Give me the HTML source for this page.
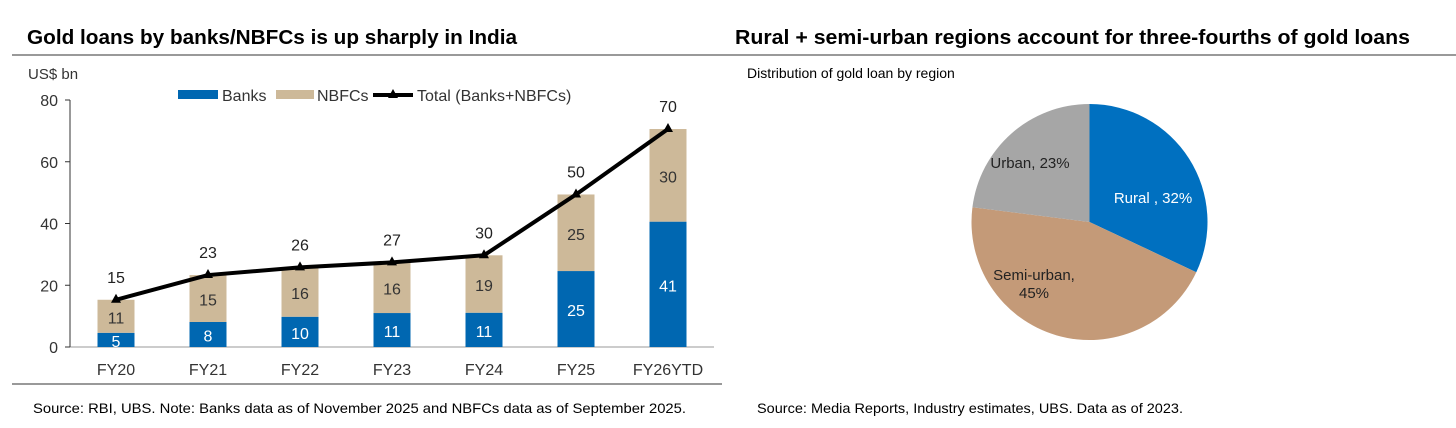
<!DOCTYPE html>
<html><head><meta charset="utf-8"><style>
body{margin:0;width:1456px;height:428px;background:#fff;font-family:"Liberation Sans",sans-serif;overflow:hidden}
svg{display:block}
</style></head><body>
<svg width="1456" height="428">
<text x="27" y="44" font-size="20" font-weight="bold" fill="#000" textLength="490" lengthAdjust="spacingAndGlyphs">Gold loans by banks/NBFCs is up sharply in India</text>
<text x="735" y="44" font-size="20" font-weight="bold" fill="#000" textLength="675" lengthAdjust="spacingAndGlyphs">Rural + semi-urban regions account for three-fourths of gold loans</text>
<line x1="12" y1="55" x2="1456" y2="55" stroke="#999" stroke-width="2"/>
<line x1="12" y1="384" x2="722" y2="384" stroke="#999" stroke-width="2"/>
<text x="33" y="413" font-size="14" textLength="653" lengthAdjust="spacingAndGlyphs">Source: RBI, UBS. Note: Banks data as of November 2025 and NBFCs data as of September 2025.</text>
<text x="757" y="413" font-size="14" textLength="426" lengthAdjust="spacingAndGlyphs">Source: Media Reports, Industry estimates, UBS. Data as of 2023.</text>
<text x="747" y="78" font-size="14">Distribution of gold loan by region</text>
<text x="28" y="79" font-size="15" fill="#333">US$ bn</text>
<g id="legend">
<rect x="178" y="90" width="40" height="9" fill="#0067b1"/>
<text x="222" y="101" font-size="16" fill="#333">Banks</text>
<rect x="276" y="90" width="38" height="9" fill="#cdb999"/>
<text x="317" y="101" font-size="16" fill="#333">NBFCs</text>
<line x1="373" y1="95" x2="413" y2="95" stroke="#000" stroke-width="4"/>
<polygon points="393,89 398,98 388,98" fill="#000"/>
<text x="417" y="101" font-size="16" fill="#333">Total (Banks+NBFCs)</text>
</g>
<g id="chart"></g>
<g id="pie"></g>
</svg>
<script>
const categories=["FY20","FY21","FY22","FY23","FY24","FY25","FY26YTD"];
const banks=[4.6,8.1,9.8,11,11.1,24.6,40.6];
const nbfcs=[10.7,15.2,16,16.4,18.6,24.8,30];
const totals=[15.3,23.3,25.8,27.4,29.7,49.4,70.6];
const bankLabels=["5","8","10","11","11","25","41"];
const nbfcLabels=["11","15","16","16","19","25","30"];
const totalLabels=["15","23","26","27","30","50","70"];
const yTicks=[0,20,40,60,80];
const pieLabels=["Rural , 32%","Semi-urban,","Urban, 23%"];
const pieValues=[32,45,23];
const NS="http://www.w3.org/2000/svg";
function mk(p,t,a){const e=document.createElementNS(NS,t);for(const k in a)e.setAttribute(k,a[k]);p.appendChild(e);return e;}
const g=document.getElementById('chart');
const x0=70,x1=714,y0=347,yTop=100,ymax=80;
const y=v=>y0-(v/ymax)*(y0-yTop);
const bw=(x1-x0)/categories.length;
const xc=i=>x0+bw*(i+0.5);
let ax=mk(g,'line',{x1:x0,y1:y0,x2:x1,y2:y0,stroke:'#bbb','stroke-width':1.5});

let ay=mk(g,'line',{x1:x0,y1:y(80),x2:x0,y2:y0,stroke:'#333','stroke-width':1});

yTicks.forEach(v=>{
 const t=mk(g,'line',{x1:x0-5,y1:y(v),x2:x0,y2:y(v),stroke:'#333'});
 
 const l=mk(g,'text',{x:x0-12,y:y(v)+6,'font-size':16,'text-anchor':'end',fill:'#333'});l.textContent=v;
 
});
categories.forEach((c,i)=>{
 const cx=xc(i),w=37;
 const b=mk(g,'rect',{x:cx-w/2,y:y(banks[i]),width:w,height:y0-y(banks[i]),fill:'#0067b1'});
 
 const n=mk(g,'rect',{x:cx-w/2,y:y(banks[i]+nbfcs[i]),width:w,height:y(banks[i])-y(banks[i]+nbfcs[i]),fill:'#cdb999'});
 
 const bl=mk(g,'text',{x:cx,y:(y0+y(banks[i]))/2+7,'font-size':16,'text-anchor':'middle',fill:'#fff'});bl.textContent=bankLabels[i];
 
 const nl=mk(g,'text',{x:cx,y:(y(banks[i])+y(banks[i]+nbfcs[i]))/2+7,'font-size':16,'text-anchor':'middle',fill:'#333'});nl.textContent=nbfcLabels[i];
 
 const xl=mk(g,'text',{x:cx,y:375,'font-size':16,'text-anchor':'middle',fill:'#333'});xl.textContent=c;
 
 const tl=mk(g,'text',{x:cx,y:y(totals[i])-17,'font-size':16,'text-anchor':'middle',fill:'#222'});tl.textContent=totalLabels[i];
 
});
const line=mk(g,'polyline',{points:totals.map((v,i)=>xc(i)+','+y(v)).join(' '),fill:'none',stroke:'#000','stroke-width':4,'stroke-linejoin':'round'});

totals.forEach((v,i)=>{
 const m=mk(g,'polygon',{points:`${xc(i)},${y(v)-6} ${xc(i)+5},${y(v)+3} ${xc(i)-5},${y(v)+3}`,fill:'#000'});
 
});
const pg=document.getElementById('pie');
const pcx=1089.5,pcy=222,r=118;
const cols=['#0070c0','#c49a78','#a6a6a6'];
const tot=pieValues.reduce((a,b)=>a+b,0);
let ang=-Math.PI/2;
const names=['rural','semi-urban','urban'];
pieValues.forEach((v,i)=>{
 const a2=ang+v/tot*2*Math.PI;
 const large=(a2-ang)>Math.PI?1:0;
 const d=`M${pcx},${pcy} L${pcx+r*Math.cos(ang)},${pcy+r*Math.sin(ang)} A${r},${r} 0 ${large} 1 ${pcx+r*Math.cos(a2)},${pcy+r*Math.sin(a2)} Z`;
 const s=mk(pg,'path',{d:d,fill:cols[i]});
 
 ang=a2;
});
const t1=mk(pg,'text',{x:1153,y:203,'font-size':15,'text-anchor':'middle',fill:'#fff'});t1.textContent=pieLabels[0];

const t2=mk(pg,'text',{x:1034,y:280,'font-size':15,'text-anchor':'middle',fill:'#222'});t2.textContent=pieLabels[1];

const t2b=mk(pg,'text',{x:1034,y:298,'font-size':15,'text-anchor':'middle',fill:'#222'});t2b.textContent=pieValues[1]+'%';

const t3=mk(pg,'text',{x:1030,y:168,'font-size':15,'text-anchor':'middle',fill:'#222'});t3.textContent=pieLabels[2];

</script>
</body></html>
